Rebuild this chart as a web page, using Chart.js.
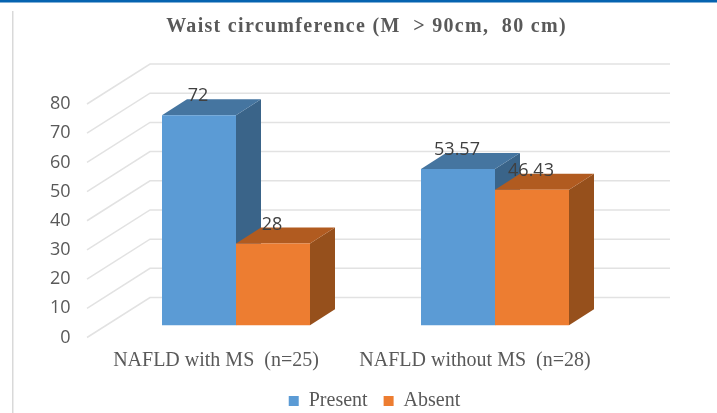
<!DOCTYPE html>
<html><head><meta charset="utf-8">
<script src="https://cdn.jsdelivr.net/npm/chart.js@4"></script>
<style>html,body{margin:0;padding:0;background:#fff}#w{position:relative;width:717px;height:413px;overflow:hidden}
canvas{display:block;filter:blur(0.4px)}</style></head>
<body><div id="w"><canvas id="c" width="717" height="413"></canvas></div>
<script>
const categories = ["NAFLD with MS  (n=25)", "NAFLD without MS  (n=28)"];
const present = [72, 53.57];
const absent = [28, 46.43];
const seriesNames = ["Present", "Absent"];
const titleText = "Waist circumference (M  > 90cm,  80 cm)";
const grey = "#595959";
const serif = "'Liberation Serif', serif";
const sans = "'Open Sans', sans-serif";

const sideColors = ["#3a6489", "#96501c"];
const topColors = ["#4575a0", "#b15b20"];

const depth3d = {
  id: "depth3d",
  afterLayout(chart) {
    const t = chart.titleBlock, lg = chart.legend;
    t.left += 8; t.right += 8;
    lg.left += 16; lg.right += 16; lg.top -= 2; lg.bottom -= 2;
    const d = t.draw;
    t.draw = function () {
      this.ctx.letterSpacing = "1.3px";
      d.apply(this, arguments);
      this.ctx.letterSpacing = "0px";
    };
  },
  beforeDraw(chart) {
    const c = chart.ctx;
    c.save();
    c.fillStyle = "#fff"; c.fillRect(0, 0, 717, 413);
    c.fillStyle = "#0563b0"; c.fillRect(0, 0, 717, 2.5);
    c.fillStyle = "#d9d9d9"; c.fillRect(12, 11, 1.5, 402);
    c.restore();
  },
  beforeDatasetsDraw(chart) {
    const c = chart.ctx, y = chart.scales.y, a = chart.chartArea, dx = 25, dy = -16;
    c.save();
    c.strokeStyle = "#e2e2e2"; c.lineWidth = 1.5;
    y.ticks.forEach(t => {
      const p = y.getPixelForValue(t.value);
      c.beginPath();
      c.moveTo(a.left - 19.5, p);
      c.lineTo(a.left + 43.5, p - 40);
      c.lineTo(a.right + 45.5, p - 40);
      c.stroke();
    });
    categories.forEach((_, i) => {
      [0, 1].forEach(ds => {
        const b = chart.getDatasetMeta(ds).data[i];
        const l = b.x - b.width / 2, r = b.x + b.width / 2;
        c.fillStyle = sideColors[ds];
        c.beginPath();
        c.moveTo(r, b.y); c.lineTo(r + dx, b.y + dy); c.lineTo(r + dx, b.base + dy); c.lineTo(r, b.base);
        c.closePath(); c.fill();
        c.fillStyle = topColors[ds];
        c.beginPath();
        c.moveTo(l, b.y); c.lineTo(l + dx, b.y + dy); c.lineTo(r + dx, b.y + dy); c.lineTo(r, b.y);
        c.closePath(); c.fill();
      });
    });
    c.restore();
  },
  afterDatasetsDraw(chart) {
    const c = chart.ctx;
    c.save();
    c.fillStyle = "#404040";
    c.font = "18px " + sans;
    c.textAlign = "center"; c.textBaseline = "middle";
    [present, absent].forEach((vals, ds) => {
      vals.forEach((v, i) => {
        const b = chart.getDatasetMeta(ds).data[i];
        c.fillText(String(v), b.x - 1, b.y - 19);
      });
    });
    c.restore();
  }
};

new Chart(document.getElementById("c"), {
  type: "bar",
  data: {
    labels: categories,
    datasets: [
      { label: seriesNames[0], data: present, backgroundColor: "#5b9bd5", yAxisID: "yBar" },
      { label: seriesNames[1], data: absent, backgroundColor: "#ed7d31", yAxisID: "yBar" }
    ]
  },
  options: {
    responsive: false, animation: false,
    layout: { padding: { top: 0, left: 0, right: 0, bottom: -10 } },
    datasets: { bar: { categoryPercentage: 148 / 259, barPercentage: 1 } },
    plugins: {
      tooltip: { enabled: false },
      title: { display: true, text: titleText, color: grey,
        font: { family: serif, size: 20, weight: "bold", lineHeight: 1.2 },
        padding: { top: 15, bottom: 65 } },
      legend: { position: "bottom",
        labels: { boxWidth: 10, boxHeight: 10, padding: 16, color: grey, font: { family: serif, size: 20 } } }
    },
    scales: {
      x: { grid: { display: false }, border: { display: false },
        ticks: { color: grey, font: { family: serif, size: 20 }, maxRotation: 0, autoSkip: false, padding: 3.5, labelOffset: -20 },
        afterFit(s) { s.height = 39.5; } },
      y: { min: 0, max: 80, position: "left", grid: { display: false }, border: { display: false },
        ticks: { stepSize: 10, color: grey, font: { family: sans, size: 18 }, padding: 28 },
        afterFit(s) { s.width = 106.5; } },
      yBar: { min: -4.18, max: 75.82, position: "right", grid: { display: false }, border: { display: false },
        ticks: { display: false },
        afterFit(s) { s.width = 92.5; } }
    }
  },
  plugins: [depth3d]
});
</script></body></html>
